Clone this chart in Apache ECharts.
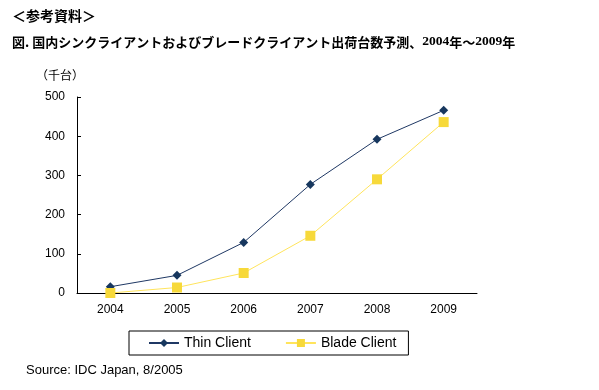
<!DOCTYPE html>
<html><head><meta charset="utf-8">
<script src="https://cdn.jsdelivr.net/npm/echarts@6/dist/echarts.min.js"></script>
<style>html,body{margin:0;padding:0;background:#fff}#c{width:599px;height:390px}</style>
</head><body><div id="c"></div>
<script>
const years = ['2004','2005','2006','2007','2008','2009'];
const thinClient = [16, 45, 129, 277, 392, 466];
const bladeClient = [0, 14, 51, 146, 290, 436];
const yTicks = {min:0, max:500, interval:100};

const chart = echarts.init(document.getElementById('c'));
const jp = '"Noto Sans CJK JP", sans-serif';
chart.setOption({
  animation:false,
  backgroundColor:'#fff',
  graphic:[
    {type:'text', left:12, top:9, style:{text:'＜参考資料＞', font:'bold 14px '+jp, fill:'#000'}},
    {type:'text', left:12, top:35, style:{rich:{a:{font:'bold 13px '+jp, fill:'#000'}, b:{font:'bold 13.5px "Liberation Serif", serif', fill:'#000'}}, text:'{a|図. 国内シンクライアントおよびブレードクライアント出荷台数予測、}{b|2004}{a|年～}{b|2009}{a|年}'}},
    {type:'text', left:36, top:69, style:{text:'（千台）', font:'12px '+jp, fill:'#000'}},
    {type:'text', left:26, top:364, style:{text:'Source: IDC Japan, 8/2005', font:'13px "Liberation Sans", Arial, sans-serif', fill:'#000'}}
  ],
  grid:{left:77, right:122, top:97, bottom:97},
  xAxis:{type:'category', data:years, boundaryGap:true,
    axisLine:{lineStyle:{color:'#000', width:1}},
    axisTick:{inside:true, length:4, lineStyle:{color:'#000'}},
    axisLabel:{color:'#000', fontSize:12, fontFamily:'"Liberation Sans", Arial', margin:11}},
  yAxis:{type:'value', min:yTicks.min, max:yTicks.max, interval:yTicks.interval,
    axisLine:{show:true, lineStyle:{color:'#000', width:1}},
    axisTick:{show:true, inside:true, length:4, lineStyle:{color:'#000'}},
    splitLine:{show:false},
    axisLabel:{color:'#000', fontSize:12, fontFamily:'"Liberation Sans", Arial', margin:12}},
  legend:{left:129, top:331, itemWidth:30, itemHeight:10, itemGap:34,
    padding:[5,12,5,19], borderColor:'#000', borderWidth:1,
    textStyle:{color:'#000', fontSize:14, fontFamily:'"Liberation Sans", Arial'},
    data:['Thin Client','Blade Client']},
  series:[
    {name:'Thin Client', type:'line', data:thinClient, symbol:'diamond', symbolSize:9,
     lineStyle:{color:'#1F3864', width:1}, itemStyle:{color:'#17375E'}},
    {name:'Blade Client', type:'line', data:bladeClient, symbol:'rect', symbolSize:10,
     lineStyle:{color:'#FFE45C', width:1}, itemStyle:{color:'#F7D93A'}}
  ]
});
</script></body></html>
